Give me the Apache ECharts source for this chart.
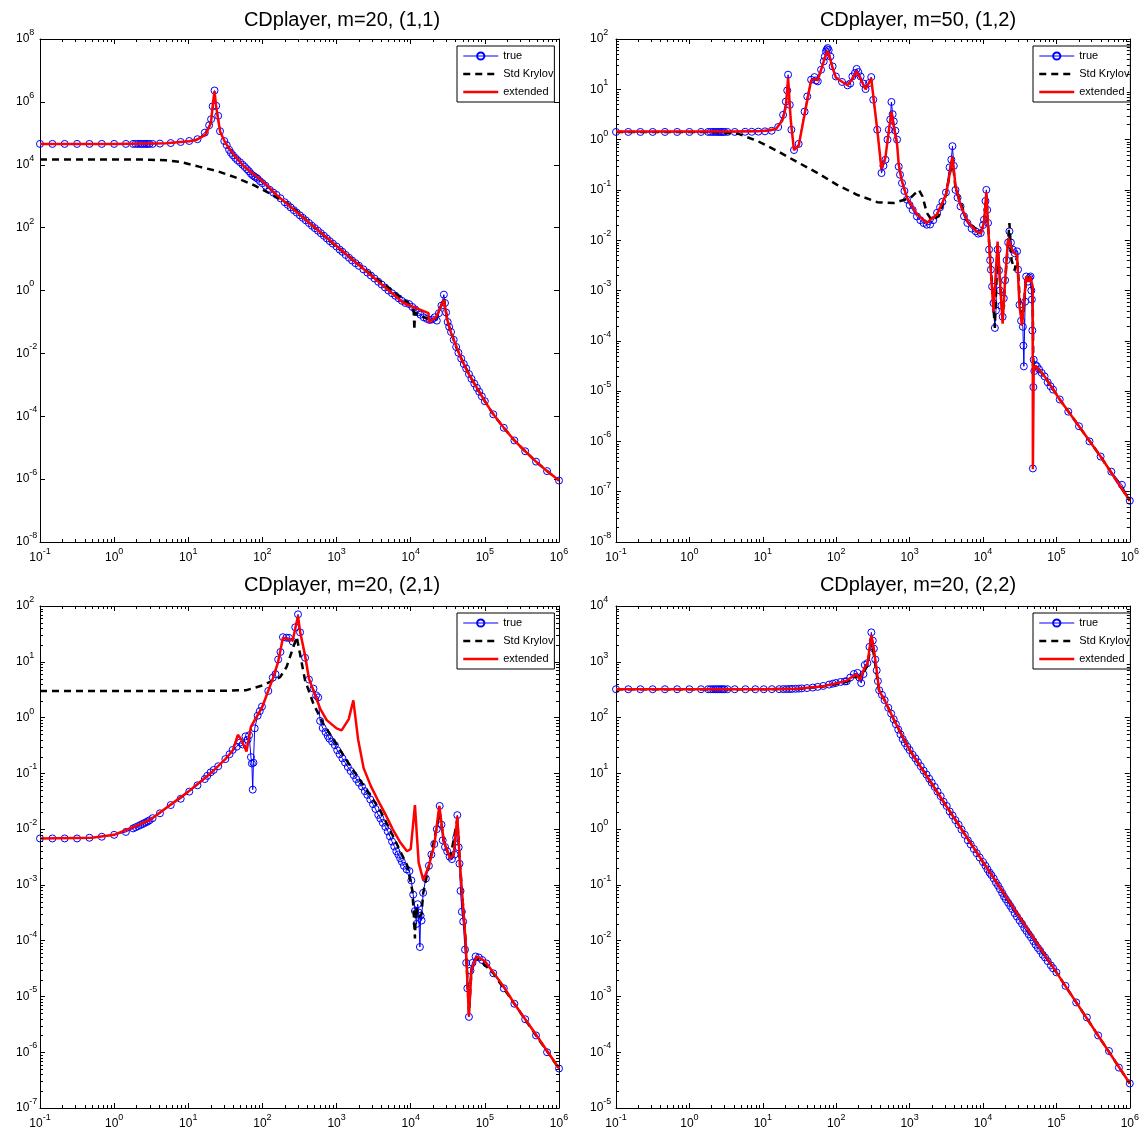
<!DOCTYPE html>
<html>
<head>
<meta charset="utf-8">
<script src="https://cdn.jsdelivr.net/npm/echarts@6/dist/echarts.min.js"></script>
<style>
  html, body { margin: 0; padding: 0; background: #fff; }
  #chart { width: 1142px; height: 1133px; }
</style>
</head>
<body>
<div id="chart"></div>
<script>
// ---------------------------------------------------------------------------
// Frequency responses |H(iw)| of the CD player model: true transfer function
// versus a standard Krylov and an extended Krylov reduced model.
// Each entry is [frequency, magnitude].
// ---------------------------------------------------------------------------
const titles = ['CDplayer, m=20, (1,1)', 'CDplayer, m=50, (1,2)', 'CDplayer, m=20, (2,1)', 'CDplayer, m=20, (2,2)'];
const seriesNames = ['true', 'Std Krylov', 'extended'];
const freqRange = [1e-1, 1e6];
const magRanges = [[1e-8, 1e8], [1e-8, 1e2], [1e-7, 1e2], [1e-5, 1e4]];
const magTickStep = [2, 1, 1, 1];   // decades between labelled magnitude ticks

// ----- entry (1,1), m = 20 -----
const trueH11 = [[0.1,4.6e4],[0.147,4.6e4],[0.215,4.6e4],[0.316,4.6e4],[0.464,4.6e4],[0.681,4.6e4],[1,4.6e4],[1.44,4.6e4],[1.8,4.6e4],[1.95,4.6e4],[2.1,4.6e4],[2.25,4.6e4],[2.4,4.6e4],[2.55,4.6e4],[2.7,4.6e4],[2.85,4.6e4],[3.0,4.6e4],[3.3,4.6e4],[4.15,4.7e4],[5.8,4.9e4],[7.9,5.3e4],[10.3,5.7e4],[13.3,6.5e4],[16.7,1.05e5],[19.1,1.8e5],[20.3,2.8e5],[21.3,7.2e5],[22.6,2.3e6],[23.8,7.5e5],[25.3,3.6e5],[26.8,1.17e5],[30.6,5.7e4],[33,4.2e4],[35.5,3.0e4],[37.6,2.4e4],[40,2.0e4],[43,1.65e4],[46,1.4e4],[49.8,1.2e4],[54,1.0e4],[58,8.5e3],[62,7.2e3],[66,6.2e3],[70,5.2e3],[74,4.6e3],[78,4.2e3],[82,3.9e3],[86,3.6e3],[92.7,3.0e3],[100,2.6e3],[110,2.15e3],[125,1.6e3],[140,1.3e3],[155,1.1e3],[175,860],[200,640],[220,530],[240,440],[265,360],[290,300],[320,245],[350,205],[385,170],[424,140],[465,115],[510,96],[560,80],[615,66],[675,55],[740,45],[810,37],[890,31],[1000,25],[1100,20],[1200,17],[1330,13.5],[1470,11],[1620,9],[1800,7.4],[2000,6.1],[2300,4.7],[2600,3.7],[2900,3.0],[3250,2.4],[3650,1.9],[4050,1.55],[4500,1.25],[5000,1.0],[5600,0.82],[6200,0.68],[6900,0.56],[7600,0.47],[8500,0.4],[9500,0.37],[1.05e4,0.3],[1.15e4,0.25],[1.25e4,0.2],[1.35e4,0.17],[1.5e4,0.14],[1.65e4,0.125],[1.8e4,0.115],[1.95e4,0.12],[2.1e4,0.14],[2.25e4,0.11],[2.4e4,0.19],[2.6e4,0.33],[2.8e4,0.74],[2.9e4,0.4],[3.0e4,0.2],[3.15e4,0.1],[3.3e4,0.07],[3.5e4,0.048],[3.8e4,0.027],[4.1e4,0.016],[4.4e4,0.0105],[4.8e4,6.8e-3],[5.2e4,4.6e-3],[5.6e4,3.3e-3],[6.1e4,2.2e-3],[6.6e4,1.55e-3],[7.2e4,1.1e-3],[7.8e4,8e-4],[8.4e4,6e-4],[9.1e4,4.3e-4],[1e5,3e-4],[1.3e5,1.15e-4],[1.8e5,4.3e-5],[2.5e5,1.7e-5],[3.5e5,7.7e-6],[4.9e5,3.6e-6],[6.9e5,1.8e-6],[1e6,9e-7]];
const krylovH11 = [[0.1,1.48e4],[1,1.48e4],[2,1.47e4],[3,1.45e4],[5,1.38e4],[8,1.22e4],[14,8.7e3],[25,6.2e3],[44,3.9e3],[78,2.2e3],[137,1.1e3],[240,510],[400,165],[1000,25],[3000,3.1],[9000,0.42],[1.05e4,0.3],[1.1e4,0.22],[1.12e4,0.055],[1.14e4,0.2],[1.3e4,0.16],[1.8e4,0.12],[2.2e4,0.13],[2.8e4,0.55],[3.15e4,0.1],[3.5e4,0.048],[4.1e4,0.016],[5.2e4,4.6e-3],[6.6e4,1.55e-3],[8.4e4,6e-4],[1e5,3e-4],[1.3e5,1.15e-4],[1.8e5,4.3e-5],[2.5e5,1.7e-5],[3.5e5,7.7e-6],[4.9e5,3.6e-6],[6.9e5,1.8e-6],[1e6,9e-7]];
const extendedH11 = [[0.1,4.6e4],[1,4.6e4],[5,4.8e4],[10.3,5.6e4],[12.9,6.2e4],[17,8.9e4],[20.2,2.1e5],[21.6,1.0e6],[22.6,2.2e6],[23.6,8e5],[25,3.2e5],[27,1.1e5],[31.6,5e4],[39.8,2.3e4],[55.7,9.1e3],[78,4.8e3],[104,2.8e3],[155,1.1e3],[1000,26],[8000,0.4],[1.74e4,0.19],[1.75e4,0.098],[2.2e4,0.14],[2.8e4,0.51],[3.1e4,0.12],[3.5e4,0.045],[4e4,0.02],[4.8e4,6.8e-3],[6e4,2.3e-3],[7.8e4,8e-4],[1e5,3e-4],[1.3e5,1.15e-4],[1.8e5,4.3e-5],[2.5e5,1.7e-5],[3.5e5,7.7e-6],[4.9e5,3.6e-6],[6.9e5,1.8e-6],[1e6,9e-7]];

// ----- entry (1,2), m = 50 -----
const trueH12 = [[0.1,1.42],[0.147,1.42],[0.215,1.42],[0.316,1.42],[0.464,1.42],[0.681,1.42],[1,1.42],[1.44,1.42],[1.8,1.42],[1.95,1.42],[2.1,1.42],[2.25,1.42],[2.4,1.42],[2.55,1.42],[2.7,1.42],[2.85,1.42],[3.0,1.42],[3.3,1.42],[4.15,1.42],[5.75,1.43],[7.07,1.43],[8.7,1.44],[10.7,1.46],[13.2,1.5],[16.2,1.78],[18.9,3.1],[20.6,5.7],[21.5,9.5],[22.1,19.5],[23.3,4.9],[24.5,1.57],[26.6,0.62],[30.8,0.82],[37.1,3.6],[40.3,7.2],[45.5,15.5],[50.6,17.5],[53,15],[56.1,14.4],[62.2,24.5],[67.6,35.9],[70,45],[72.6,56.8],[74.5,62],[76.5,66],[79,60],[83.2,45],[89.3,28.5],[99,18],[120,14],[142.6,12],[155,13],[166,18],[180,21],[190,25.4],[200,22],[215,18],[235,13],[251,10.1],[280,13.3],[300,17.5],[320,6.2],[362,1.57],[414,0.216],[440,0.3],[469,0.398],[500,1.0],[521,1.57],[545,2.5],[565,5.6],[587,3.2],[609,2.3],[640,1.5],[675,1.0],[711,0.29],[740,0.2],[787,0.137],[850,0.095],[920,0.064],[1000,0.05],[1100,0.04],[1256,0.0297],[1400,0.025],[1550,0.022],[1714,0.0203],[1900,0.0205],[2100,0.025],[2366,0.035],[2600,0.045],[2800,0.058],[3126,0.089],[3500,0.28],[3700,0.4],[3837,0.74],[4000,0.3],[4217,0.1],[4500,0.07],[4940,0.047],[5500,0.03],[6120,0.022],[7000,0.017],[7940,0.015],[8600,0.0135],[9310,0.0139],[1.0e4,0.02],[1.03e4,0.0255],[1.08e4,0.06],[1.11e4,0.1],[1.14e4,0.04],[1.17e4,0.022],[1.21e4,0.0065],[1.25e4,0.004],[1.28e4,0.0026],[1.33e4,0.0012],[1.39e4,5.6e-4],[1.45e4,1.8e-4],[1.5e4,4e-4],[1.58e4,0.0065],[1.65e4,0.0025],[1.7e4,1e-3],[1.78e4,5e-4],[1.85e4,3e-4],[1.92e4,7e-4],[2e4,1.6e-3],[2.1e4,4e-3],[2.2e4,9e-3],[2.29e4,0.015],[2.4e4,9e-3],[2.54e4,6.5e-3],[2.7e4,5.5e-3],[2.91e4,6e-3],[3.0e4,2.6e-3],[3.14e4,5.2e-4],[3.3e4,2.5e-4],[3.49e4,1.9e-4],[3.55e4,8e-5],[3.6e4,3.1e-5],[3.75e4,6e-4],[3.87e4,1.9e-3],[4.1e4,1.5e-3],[4.3e4,1.8e-3],[4.44e4,1.9e-3],[4.55e4,1e-3],[4.63e4,6.6e-4],[4.7e4,1.6e-4],[4.78e4,2.9e-7],[4.85e4,1.2e-5],[4.9e4,4.2e-5],[5.0e4,2.5e-5],[5.2e4,3.3e-5],[5.43e4,3.1e-5],[5.8e4,2.7e-5],[6.3e4,2.3e-5],[6.9e4,1.96e-5],[7.6e4,1.5e-5],[8.3e4,1.25e-5],[9e4,1.07e-5],[1.11e5,6.8e-6],[1.45e5,3.9e-6],[2.03e5,2.0e-6],[2.82e5,1e-6],[4e5,5e-7],[5.6e5,2.5e-7],[7.8e5,1.37e-7],[1e6,6.6e-8]];
const krylovH12 = [[0.1,1.42],[2,1.42],[4.67,1.3],[8.7,0.92],[16.2,0.58],[30.3,0.35],[56,0.216],[103,0.126],[192,0.08],[362,0.057],[609,0.055],[1020,0.069],[1340,0.10],[1500,0.074],[1714,0.035],[2000,0.025],[2500,0.03],[3126,0.08],[3837,0.4],[4217,0.11],[6120,0.023],[9310,0.014],[1.03e4,0.022],[1.11e4,0.08],[1.17e4,0.02],[1.3e4,0.002],[1.45e4,1.8e-4],[1.58e4,0.008],[1.85e4,3e-4],[2.0e4,1.5e-3],[2.29e4,0.022],[2.45e4,4e-3],[2.7e4,2.5e-3],[2.91e4,5e-3],[3.2e4,5e-4],[3.5e4,3e-4],[3.87e4,1.8e-3],[4.4e4,1.9e-3],[4.75e4,1e-3],[4.85e4,2.5e-5],[5.2e4,3.2e-5],[6.9e4,1.96e-5],[1.11e5,6.8e-6],[2.03e5,2e-6],[4e5,5e-7],[1e6,6.6e-8]];
const extendedH12 = [[0.1,1.45],[4,1.45],[10,1.48],[15,1.6],[18.5,2.4],[20.6,4.5],[22.1,17],[24,2.5],[26.6,0.62],[30.8,0.75],[37.1,3.2],[45.5,15],[50.6,16],[56,15],[62,24],[72.6,50],[76.5,58],[83,40],[89,27],[99,17],[142.6,12],[166,16],[190,23],[215,16],[251,10],[300,16.5],[362,1.6],[414,0.26],[469,0.45],[521,1.5],[565,3.6],[609,1.8],[675,0.8],[711,0.32],[787,0.15],[920,0.07],[1256,0.033],[1714,0.022],[2366,0.033],[3126,0.08],[3500,0.2],[3837,0.46],[4217,0.12],[4940,0.05],[6120,0.024],[7940,0.0155],[9310,0.0135],[1.03e4,0.022],[1.11e4,0.09],[1.17e4,0.02],[1.25e4,0.004],[1.39e4,3.8e-4],[1.58e4,0.0094],[1.85e4,2.2e-4],[2.0e4,1.6e-3],[2.2e4,0.011],[2.29e4,0.012],[2.54e4,6e-3],[2.91e4,5e-3],[3.14e4,5e-4],[3.4e4,2e-4],[3.87e4,1.9e-3],[4.1e4,1.5e-3],[4.4e4,1.9e-3],[4.75e4,1.2e-3],[4.78e4,2.8e-7],[4.9e4,2.5e-5],[5.2e4,3.2e-5],[6.9e4,1.96e-5],[1.11e5,6.8e-6],[2.03e5,2e-6],[4e5,5e-7],[1e6,6.6e-8]];

// ----- entry (2,1), m = 20 -----
const trueH21 = [[0.1,6.8e-3],[0.147,6.8e-3],[0.215,6.8e-3],[0.316,6.8e-3],[0.464,7.0e-3],[0.681,7.3e-3],[1,7.9e-3],[1.44,8.9e-3],[1.8,0.0103],[1.95,0.0108],[2.1,0.0113],[2.25,0.0118],[2.4,0.0123],[2.55,0.0128],[2.7,0.0133],[2.85,0.0138],[3.0,0.0144],[3.3,0.0157],[4.15,0.0192],[5.8,0.027],[7.9,0.035],[10.3,0.047],[13.3,0.061],[16.7,0.079],[18,0.09],[20,0.104],[22,0.115],[25.3,0.134],[31.6,0.18],[36,0.22],[39.7,0.263],[45,0.3],[49.8,0.355],[54,0.33],[59,0.46],[63,0.4],[66.1,0.48],[70,0.195],[72,0.15],[74,0.051],[75.6,0.155],[78.7,0.64],[86.2,1.08],[92,1.3],[98.5,1.57],[120,3],[138,5.2],[150,6],[163,11],[175,15],[189,27.6],[210,27],[228,26.8],[256,23],[277,41.5],[302,70.9],[322,33.7],[376,11.8],[424,4.8],[488,3.3],[530,2.5],[565,2.3],[600,0.87],[650,0.65],[710,0.55],[760,0.47],[800,0.42],[870,0.37],[948,0.32],[1020,0.26],[1100,0.22],[1200,0.185],[1300,0.156],[1420,0.13],[1550,0.11],[1700,0.093],[1840,0.079],[2000,0.068],[2200,0.058],[2400,0.048],[2600,0.041],[2850,0.034],[3100,0.028],[3350,0.023],[3650,0.018],[3900,0.0155],[4200,0.013],[4550,0.011],[4900,9.1e-3],[5250,7.4e-3],[5600,6e-3],[6000,4.9e-3],[6400,4e-3],[6800,3.5e-3],[7200,3e-3],[7600,2.6e-3],[8100,2.2e-3],[8800,1.9e-3],[9600,1.77e-3],[1.02e4,1.2e-3],[1.08e4,6.7e-4],[1.14e4,3.4e-4],[1.2e4,2e-4],[1.24e4,4.5e-4],[1.28e4,3.2e-4],[1.33e4,7.7e-5],[1.36e4,2.8e-4],[1.4e4,2.3e-4],[1.47e4,7.2e-4],[1.6e4,1.3e-3],[1.76e4,2.2e-3],[1.9e4,3.5e-3],[2.08e4,5.4e-3],[2.25e4,0.01],[2.46e4,0.026],[2.6e4,0.012],[2.7e4,6.3e-3],[2.9e4,4.8e-3],[3.1e4,4e-3],[3.35e4,3.2e-3],[3.6e4,2.9e-3],[3.9e4,3.5e-3],[4.1e4,7e-3],[4.25e4,0.0178],[4.44e4,4.7e-3],[4.55e4,2.4e-3],[4.7e4,7.8e-4],[4.9e4,3.3e-4],[5.1e4,2.2e-4],[5.4e4,6.9e-5],[5.6e4,4e-5],[5.8e4,1.4e-5],[6.1e4,4.3e-6],[6.4e4,2.9e-5],[6.8e4,4e-5],[7.5e4,5.2e-5],[8.3e4,5e-5],[9.2e4,4.5e-5],[1.05e5,3.9e-5],[1.3e5,2.6e-5],[1.8e5,1.4e-5],[2.5e5,7.4e-6],[3.5e5,3.9e-6],[4.9e5,2e-6],[6.9e5,1e-6],[1e6,5.1e-7]];
const krylovH21 = [[0.1,3.0],[10,3.0],[30,3.02],[61,3.1],[102,3.8],[173,5.3],[212,8.1],[261,18.4],[290,27.7],[321,14],[375,4.7],[486,1.78],[661,0.78],[1370,0.17],[3860,0.022],[5820,7.3e-3],[9000,2.2e-3],[1.05e4,8e-4],[1.1e4,3e-4],[1.14e4,1.1e-4],[1.18e4,4e-4],[1.25e4,2.5e-4],[1.4e4,3e-4],[1.47e4,7e-4],[1.76e4,2.2e-3],[2.46e4,0.02],[2.8e4,6e-3],[3.4e4,2.9e-3],[4.25e4,0.015],[4.6e4,2.5e-3],[5.5e4,1e-4],[6.1e4,5e-6],[6.6e4,3e-5],[7.8e4,5e-5],[1.3e5,2.6e-5],[2.5e5,7.4e-6],[4.9e5,2e-6],[1e6,5.1e-7]];
const extendedH21 = [[0.1,6.8e-3],[0.5,7e-3],[1,7.9e-3],[3,0.0144],[10,0.047],[20,0.1],[31.6,0.18],[40,0.26],[46.6,0.49],[52,0.4],[61,0.245],[70,0.69],[86,1.1],[98.5,1.5],[138,5],[163,10],[189,27],[228,25],[256,24],[302,66],[322,35],[376,13],[424,5],[600,1.45],[736,0.9],[1000,0.64],[1170,0.59],[1460,0.94],[1683,2.04],[1950,0.41],[2317,0.124],[2900,0.059],[3650,0.032],[4600,0.018],[5700,0.01],[7160,5.9e-3],[8900,4e-3],[1.0e4,4.4e-3],[1.14e4,0.027],[1.28e4,2.5e-3],[1.48e4,1.2e-3],[1.76e4,2.2e-3],[2.08e4,5.2e-3],[2.43e4,0.026],[2.8e4,6e-3],[3.4e4,3e-3],[3.8e4,3.5e-3],[4.25e4,0.017],[4.6e4,2.5e-3],[5.5e4,1e-4],[6.1e4,4.4e-6],[6.6e4,3e-5],[7.8e4,5.2e-5],[1e5,4.3e-5],[1.3e5,2.7e-5],[1.86e5,1.4e-5],[2.5e5,7.4e-6],[5e5,2e-6],[1e6,5.1e-7]];

// ----- entry (2,2), m = 20 -----
const trueH22 = [[0.1,322],[0.147,322],[0.215,322],[0.316,322],[0.464,322],[0.681,322],[1,322],[1.44,322],[1.8,322],[1.95,322],[2.1,322],[2.25,322],[2.4,322],[2.55,322],[2.7,322],[2.85,322],[3.0,322],[3.3,322],[4.15,322],[5.8,322],[7.9,322],[10.3,322],[13.3,323],[16.7,323],[19,324],[21,324],[23,325],[25,326],[28,328],[31,330],[34,333],[40,338],[48,345],[56,355],[66.5,369],[80,390],[90,405],[98.9,417],[115,435],[131,445],[139,448],[155,520],[174,604],[195,631],[207,520],[219,415],[235,600],[245,877],[266,944],[284,1850],[301,3370],[315,2400],[326,1720],[340,1100],[356,701],[370,450],[385,309],[420,255],[457,205],[512,150],[560,118],[607,93],[650,76],[700,61],[750,50],[805,41],[860,35],[930,30],[1000,26.2],[1100,21.5],[1200,18.5],[1300,15.8],[1420,13.4],[1550,11.2],[1700,9.5],[1850,8],[2000,6.8],[2200,5.7],[2400,4.7],[2650,3.9],[2900,3.1],[3200,2.6],[3520,2.07],[3850,1.75],[4200,1.45],[4650,1.2],[5100,0.98],[5650,0.79],[6210,0.63],[6800,0.53],[7500,0.44],[8200,0.37],[9000,0.31],[1e4,0.257],[1.08e4,0.22],[1.15e4,0.19],[1.23e4,0.165],[1.3e4,0.15],[1.4e4,0.13],[1.5e4,0.11],[1.6e4,0.097],[1.7e4,0.084],[1.82e4,0.072],[1.93e4,0.062],[2.05e4,0.055],[2.2e4,0.048],[2.35e4,0.042],[2.5e4,0.037],[2.7e4,0.031],[2.9e4,0.027],[3.15e4,0.023],[3.4e4,0.02],[3.65e4,0.017],[3.9e4,0.015],[4.2e4,0.013],[4.5e4,0.0115],[4.85e4,0.0098],[5.2e4,8.5e-3],[5.6e4,7.4e-3],[6e4,6.6e-3],[6.5e4,5.6e-3],[7e4,5e-3],[7.6e4,4.3e-3],[8.4e4,3.6e-3],[9e4,3.2e-3],[1e5,2.7e-3],[1.33e5,1.55e-3],[1.86e5,7.8e-4],[2.6e5,4.2e-4],[3.7e5,2e-4],[5.2e5,1.05e-4],[7.1e5,5.3e-5],[1e6,2.75e-5]];
const krylovH22 = [[0.1,322],[10,322],[30,325],[66.5,360],[98.9,400],[140,440],[174,520],[219,560],[245,700],[266,850],[290,1700],[301,2800],[315,1800],[340,900],[385,300],[457,205],[607,93],[1000,26.2],[1e4,0.257],[1e5,2.7e-3],[1e6,2.75e-5]];
const extendedH22 = [[0.1,322],[10,322],[30,330],[66.5,365],[98.9,410],[140,460],[174,560],[190,600],[210,470],[219,450],[245,800],[266,900],[301,3000],[326,1700],[356,700],[385,300],[457,205],[607,93],[1000,26.2],[1e4,0.257],[1e5,2.7e-3],[1e6,2.75e-5]];

const panelData = [
  [trueH11, krylovH11, extendedH11],
  [trueH12, krylovH12, extendedH12],
  [trueH21, krylovH21, extendedH21],
  [trueH22, krylovH22, extendedH22]
];

// ---------------------------------------------------------------------------
// Layout (pixels) of the 2x2 subplot arrangement
// ---------------------------------------------------------------------------
const panels = [
  { left: 40,  top: 39,  width: 519, height: 503, titleX: 342, titleY: 20,  legendLeft: 457,  legendTop: 46,  labelMargin: 24, minorY: false },
  { left: 616, top: 39,  width: 521, height: 503, titleX: 918, titleY: 20,  legendLeft: 1033, legendTop: 46,  labelMargin: 26, minorY: true },
  { left: 40,  top: 606, width: 519, height: 502, titleX: 342, titleY: 585, legendLeft: 457,  legendTop: 613, labelMargin: 24, minorY: true },
  { left: 616, top: 606, width: 521, height: 502, titleX: 918, titleY: 585, legendLeft: 1033, legendTop: 613, labelMargin: 26, minorY: true }
];

// Prefer a condensed sans face when one is installed
function fontAvailable(name) {
  const ctx = document.createElement('canvas').getContext('2d');
  const sample = 'CDplayer, m=20 Std Krylov 0123456789';
  ctx.font = '40px monospace';
  const base = ctx.measureText(sample).width;
  ctx.font = '40px "' + name + '", monospace';
  return ctx.measureText(sample).width !== base;
}
const narrow = fontAvailable('Liberation Sans Narrow');
const FONT = narrow ? '"Liberation Sans Narrow", "Liberation Sans", Arial, sans-serif'
                    : '"Liberation Sans", Arial, Helvetica, sans-serif';
const SZ = narrow ? { title: 24, tick: 12, exp: 9, legend: 13, line: 22 }
                  : { title: 20, tick: 12, exp: 9, legend: 11, line: 22 };

const powRich = {
  b: { fontFamily: FONT, fontSize: SZ.tick, lineHeight: SZ.line, color: '#000', verticalAlign: 'middle' },
  e: { fontFamily: FONT, fontSize: SZ.exp, lineHeight: SZ.exp + 1, color: '#000', verticalAlign: 'top' }
};
function powLabel(v) {
  return '{b|10}{e|' + Math.round(Math.log10(v)) + '}';
}

// Minor tick positions 2..9 x 10^k inside a range
function minorValues(lo, hi) {
  const out = [];
  for (let d = Math.round(Math.log10(lo)); d < Math.round(Math.log10(hi)); d++) {
    for (let k = 2; k <= 9; k++) out.push(k * Math.pow(10, d));
  }
  return out;
}

const grids = [], xAxes = [], yAxes = [], series = [], legends = [], graphics = [];
const axisLineStyle = { color: '#000', width: 1 };

panels.forEach((p, i) => {
  grids.push({ left: p.left, top: p.top, width: p.width, height: p.height, show: false });
});

// bottom / left axes carry labels; top / right copies close the box
[false, true].forEach(mirror => {
  panels.forEach((p, i) => {
    xAxes.push({
      type: 'log', logBase: 10, gridIndex: i, position: mirror ? 'top' : 'bottom',
      min: freqRange[0], max: freqRange[1], interval: 1, splitNumber: 7,
      axisLine: { show: true, onZero: false, lineStyle: axisLineStyle },
      axisTick: { show: true, inside: true, length: 5, lineStyle: axisLineStyle },
      axisLabel: { show: !mirror, margin: 5, formatter: powLabel, rich: powRich, hideOverlap: false, showMinLabel: true, showMaxLabel: true },
      splitLine: { show: false }, minorTick: { show: false }, minorSplitLine: { show: false }
    });
    const mr = magRanges[i];
    const span = Math.round(Math.log10(mr[1]) - Math.log10(mr[0]));
    yAxes.push({
      type: 'log', logBase: 10, gridIndex: i, position: mirror ? 'right' : 'left',
      min: mr[0], max: mr[1], interval: magTickStep[i], splitNumber: span / magTickStep[i],
      axisLine: { show: true, onZero: false, lineStyle: axisLineStyle },
      axisTick: { show: true, inside: true, length: 5, lineStyle: axisLineStyle },
      axisLabel: { show: !mirror, margin: p.labelMargin, align: 'left', formatter: powLabel, rich: powRich, hideOverlap: false, showMinLabel: true, showMaxLabel: true },
      splitLine: { show: false }, minorTick: { show: false }, minorSplitLine: { show: false }
    });
  });
});

const tickStroke = { stroke: '#000', lineWidth: 1 };
const MINOR = 3;
const hiddenMarker = { color: 'rgba(0,0,0,0)', borderColor: 'rgba(0,0,0,0)', borderWidth: 0 };

panels.forEach((p, i) => {
  const [tru, kry, ext] = panelData[i];
  series.push({
    name: seriesNames[0], type: 'line', xAxisIndex: i, yAxisIndex: i, data: tru,
    symbol: 'circle', symbolSize: 7, showSymbol: true, showAllSymbol: true,
    lineStyle: { color: '#0000ff', width: 1 },
    itemStyle: { color: 'rgba(0,0,0,0)', borderColor: '#0000ff', borderWidth: 1 },
    emphasis: { disabled: true }, silent: true, z: 2, animation: false
  });
  series.push({
    name: seriesNames[1], type: 'line', xAxisIndex: i, yAxisIndex: i, data: kry,
    symbol: 'none', showSymbol: false,
    lineStyle: { color: '#000000', width: 2.5, type: [7, 5] },
    itemStyle: { color: '#000000' },
    emphasis: { disabled: true }, silent: true, z: 3, animation: false
  });
  series.push({
    name: seriesNames[2], type: 'line', xAxisIndex: i, yAxisIndex: i, data: ext,
    symbol: 'none', showSymbol: false,
    lineStyle: { color: '#ff0000', width: 2.5 },
    itemStyle: { color: '#ff0000' },
    emphasis: { disabled: true }, silent: true, z: 4, animation: false
  });

  // minor ticks on the frequency axis (bottom and top edges)
  const ymin = magRanges[i][0];
  series.push({
    type: 'custom', xAxisIndex: i, yAxisIndex: i, silent: true, z: 10, clip: false, animation: false,
    data: minorValues(freqRange[0], freqRange[1]).map(v => [v, ymin]),
    renderItem(params, api) {
      const cs = params.coordSys;
      const x = Math.round(api.coord([api.value(0), api.value(1)])[0]) + 0.5;
      const yb = cs.y + cs.height, yt = cs.y;
      return { type: 'group', children: [
        { type: 'line', shape: { x1: x, y1: yb, x2: x, y2: yb - MINOR }, style: tickStroke },
        { type: 'line', shape: { x1: x, y1: yt, x2: x, y2: yt + MINOR }, style: tickStroke }
      ] };
    }
  });
  // minor ticks on the magnitude axis (left and right edges)
  if (p.minorY) {
    series.push({
      type: 'custom', xAxisIndex: i, yAxisIndex: i, silent: true, z: 10, clip: false, animation: false,
      data: minorValues(magRanges[i][0], magRanges[i][1]).map(v => [freqRange[0], v]),
      renderItem(params, api) {
        const cs = params.coordSys;
        const y = Math.round(api.coord([api.value(0), api.value(1)])[1]) + 0.5;
        const xl = cs.x, xr = cs.x + cs.width;
        return { type: 'group', children: [
          { type: 'line', shape: { x1: xl, y1: y, x2: xl + MINOR, y2: y }, style: tickStroke },
          { type: 'line', shape: { x1: xr, y1: y, x2: xr - MINOR, y2: y }, style: tickStroke }
        ] };
      }
    });
  }

  legends.push({
    left: p.legendLeft, top: p.legendTop, orient: 'vertical',
    data: [
      { name: seriesNames[0] },
      { name: seriesNames[1], itemStyle: hiddenMarker },
      { name: seriesNames[2], itemStyle: hiddenMarker }
    ],
    selectedMode: false,
    itemWidth: 35, itemHeight: 9, itemGap: 4,
    padding: [3, 1, 3, 5],
    backgroundColor: '#ffffff', borderColor: '#000000', borderWidth: 1, borderRadius: 0,
    lineStyle: { width: 'inherit' },
    textStyle: { fontFamily: FONT, fontSize: SZ.legend, lineHeight: 14, color: '#000' }
  });

  graphics.push({
    type: 'text', x: p.titleX, y: p.titleY, silent: true,
    style: { text: titles[i], font: SZ.title + 'px ' + FONT, fill: '#000',
             textAlign: 'center', textVerticalAlign: 'middle', align: 'center', verticalAlign: 'middle' }
  });
});

const chart = echarts.init(document.getElementById('chart'), null, { renderer: 'canvas' });
chart.setOption({
  animation: false,
  backgroundColor: '#ffffff',
  grid: grids,
  xAxis: xAxes,
  yAxis: yAxes,
  legend: legends,
  graphic: graphics,
  series: series
});
</script>
</body>
</html>
